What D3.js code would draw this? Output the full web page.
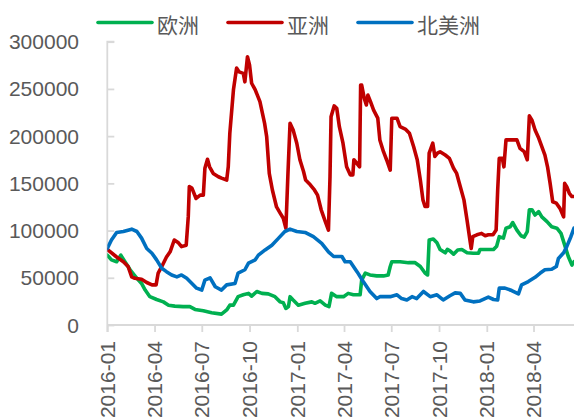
<!DOCTYPE html>
<html><head><meta charset="utf-8">
<script src="https://cdn.jsdelivr.net/npm/d3@7"></script>
<style>body{margin:0;background:#fff}svg{display:block}</style>
</head><body>
<svg id="c" width="574" height="419"></svg>
<script>
const seriesNames = ["欧洲", "亚洲", "北美洲"];
const seriesColors = ["#00B050", "#C00000", "#0070C0"];
const yTicks = [0, 50000, 100000, 150000, 200000, 250000, 300000];
const xTickLabels = ["2016-01","2016-04","2016-07","2016-10","2017-01","2017-04","2017-07","2017-10","2018-01","2018-04"];

const europe = [
["2016-01-01",74000],["2016-01-09",69000],["2016-01-19",67000],["2016-01-27",74000],["2016-02-04",67000],
["2016-02-14",58500],["2016-02-27",49500],["2016-03-07",44000],["2016-03-14",37000],["2016-03-23",30000],
["2016-04-05",27000],["2016-04-18",24500],["2016-04-28",21000],["2016-05-10",20000],["2016-05-26",19500],
["2016-06-08",19500],["2016-06-18",16500],["2016-07-04",15000],["2016-07-20",13000],["2016-08-08",11500],
["2016-08-18",16000],["2016-08-24",21000],["2016-08-31",21000],["2016-09-09",30000],["2016-09-19",32000],
["2016-09-29",33500],["2016-10-05",30500],["2016-10-15",35500],["2016-10-25",33500],["2016-11-06",33000],
["2016-11-19",30000],["2016-11-29",24500],["2016-12-05",23500],["2016-12-10",17500],["2016-12-15",19500],
["2016-12-18",30000],["2016-12-24",26500],["2017-01-03",21000],["2017-01-16",23000],["2017-01-29",24500],
["2017-02-04",23000],["2017-02-14",25500],["2017-02-24",21000],["2017-03-03",19500],["2017-03-08",33500],
["2017-03-18",30000],["2017-03-31",30000],["2017-04-09",33500],["2017-04-19",32000],["2017-05-02",32000],
["2017-05-05",47500],["2017-05-12",55000],["2017-05-21",53000],["2017-06-03",52000],["2017-06-16",52000],
["2017-06-25",53000],["2017-06-29",62000],["2017-07-02",67000],["2017-07-18",67000],["2017-08-03",66000],
["2017-08-16",66000],["2017-08-26",62000],["2017-09-04",55000],["2017-09-09",53000],["2017-09-12",90000],
["2017-09-20",91000],["2017-09-27",87000],["2017-10-03",80000],["2017-10-13",76500],["2017-10-17",80000],
["2017-10-22",78500],["2017-10-29",75000],["2017-11-06",79500],["2017-11-14",80000],["2017-11-24",76500],
["2017-12-06",76000],["2017-12-16",76000],["2017-12-19",80000],["2018-01-14",80000],["2018-01-20",83500],
["2018-01-25",93500],["2018-02-02",92000],["2018-02-07",102500],["2018-02-15",104000],["2018-02-20",108500],
["2018-02-28",100500],["2018-03-08",94500],["2018-03-14",93000],["2018-03-20",99000],["2018-03-24",122000],
["2018-03-29",122000],["2018-04-04",116500],["2018-04-11",120000],["2018-04-17",114500],["2018-04-27",109500],
["2018-05-06",104000],["2018-05-16",102500],["2018-05-24",97000],["2018-06-01",83000],["2018-06-07",72500],
["2018-06-14",63500],["2018-06-18",67000]
];

const asia = [
["2016-01-01",80000],["2016-01-19",72000],["2016-02-01",67000],["2016-02-10",62000],["2016-02-17",51000],
["2016-02-23",49500],["2016-03-07",48500],["2016-03-17",45000],["2016-03-27",42500],["2016-04-04",42500],
["2016-04-08",55000],["2016-04-15",62000],["2016-04-24",72000],["2016-05-01",77500],["2016-05-09",90000],
["2016-05-17",87000],["2016-05-23",83000],["2016-06-01",84500],["2016-06-05",115000],["2016-06-07",146500],
["2016-06-12",145000],["2016-06-20",134000],["2016-06-28",137500],["2016-07-04",137500],["2016-07-07",166000],
["2016-07-12",175500],["2016-07-16",167500],["2016-07-23",160500],["2016-08-02",157000],["2016-08-08",155500],
["2016-08-18",153500],["2016-08-21",167500],["2016-08-24",203000],["2016-08-31",249000],["2016-09-06",272000],
["2016-09-11",268000],["2016-09-19",266500],["2016-09-22",257500],["2016-09-27",284000],["2016-10-01",275500],
["2016-10-05",256000],["2016-10-12",249000],["2016-10-21",236500],["2016-10-30",213500],["2016-11-03",199500],
["2016-11-08",160500],["2016-11-14",143000],["2016-11-22",125000],["2016-11-29",118500],["2016-12-05",113000],
["2016-12-10",102500],["2016-12-14",160500],["2016-12-18",213500],["2016-12-24",206500],["2016-12-31",192500],
["2017-01-06",175000],["2017-01-13",162500],["2017-01-17",153500],["2017-01-26",148500],["2017-02-03",143000],
["2017-02-09",137500],["2017-02-16",122000],["2017-02-24",109500],["2017-03-02",100500],["2017-03-05",157000],
["2017-03-07",220500],["2017-03-13",232000],["2017-03-18",229500],["2017-03-23",210000],["2017-03-30",192500],
["2017-04-06",167500],["2017-04-13",159000],["2017-04-18",159000],["2017-04-20",175000],["2017-04-26",171000],
["2017-05-01",167500],["2017-05-03",254000],["2017-05-05",254000],["2017-05-10",240000],["2017-05-14",233000],
["2017-05-17",243500],["2017-05-22",236500],["2017-05-28",227500],["2017-06-05",219000],["2017-06-09",196000],
["2017-06-16",183500],["2017-06-22",175000],["2017-06-29",164000],["2017-07-02",219000],["2017-07-12",219000],
["2017-07-18",210000],["2017-07-28",207500],["2017-08-05",203000],["2017-08-13",189000],["2017-08-20",175000],
["2017-08-26",153500],["2017-08-31",132500],["2017-09-04",125500],["2017-09-09",125500],["2017-09-12",182000],
["2017-09-19",192500],["2017-09-23",178500],["2017-09-28",182000],["2017-10-03",183500],["2017-10-13",180000],
["2017-10-21",176500],["2017-10-29",166000],["2017-11-04",160500],["2017-11-11",146500],["2017-11-18",132500],
["2017-11-24",111000],["2017-11-29",92000],["2017-12-02",81000],["2017-12-05",93500],["2017-12-13",95500],
["2017-12-22",97000],["2017-12-29",94500],["2018-01-04",95500],["2018-01-13",95500],["2018-01-19",100500],
["2018-01-22",143000],["2018-01-25",176500],["2018-01-31",176500],["2018-02-03",167500],["2018-02-07",196000],
["2018-02-18",196000],["2018-02-28",196000],["2018-03-06",187000],["2018-03-14",183500],["2018-03-20",175000],
["2018-03-24",221500],["2018-03-29",217000],["2018-04-04",206500],["2018-04-11",198000],["2018-04-17",189000],
["2018-04-23",180000],["2018-04-28",167500],["2018-05-03",150000],["2018-05-08",130500],["2018-05-15",129000],
["2018-05-22",123500],["2018-05-29",114500],["2018-05-31",150000],["2018-06-04",146500],["2018-06-09",139500],
["2018-06-14",136000],["2018-06-18",136000]
];

const northAmerica = [
["2016-01-01",81000],["2016-01-09",90000],["2016-01-19",98000],["2016-02-01",99000],["2016-02-17",101500],
["2016-02-27",99000],["2016-03-07",92000],["2016-03-17",81000],["2016-03-27",76000],["2016-04-05",69000],
["2016-04-15",60000],["2016-04-24",56500],["2016-05-04",53000],["2016-05-14",51000],["2016-05-23",53000],
["2016-06-02",49500],["2016-06-12",44000],["2016-06-21",39000],["2016-07-01",37000],["2016-07-07",47500],
["2016-07-17",50000],["2016-07-27",40500],["2016-08-08",37000],["2016-08-18",42500],["2016-09-03",44000],
["2016-09-09",55000],["2016-09-22",58500],["2016-09-29",65500],["2016-10-12",69000],["2016-10-18",74000],
["2016-10-31",79500],["2016-11-13",84500],["2016-11-26",92000],["2016-12-08",99000],["2016-12-18",101500],
["2016-12-31",99000],["2017-01-16",98000],["2017-02-01",93500],["2017-02-17",86500],["2017-03-02",77500],
["2017-03-12",72500],["2017-03-28",72500],["2017-04-03",67000],["2017-04-13",67000],["2017-04-26",56500],
["2017-05-08",46000],["2017-05-21",35500],["2017-06-03",28000],["2017-06-09",30000],["2017-06-29",30000],
["2017-07-12",32000],["2017-07-21",28000],["2017-07-31",26500],["2017-08-10",30000],["2017-08-19",28000],
["2017-09-01",35500],["2017-09-14",30000],["2017-09-27",32000],["2017-10-09",26500],["2017-10-22",31000],
["2017-11-01",34000],["2017-11-11",33500],["2017-11-20",26500],["2017-12-06",24500],["2017-12-19",25500],
["2018-01-04",29500],["2018-01-14",27000],["2018-01-22",26500],["2018-01-25",39000],["2018-02-05",39000],
["2018-02-18",36500],["2018-03-03",33000],["2018-03-09",42500],["2018-03-22",46000],["2018-04-04",50500],
["2018-04-14",55000],["2018-04-23",58500],["2018-05-06",59000],["2018-05-15",62000],["2018-05-19",70500],
["2018-05-29",76500],["2018-06-04",83000],["2018-06-12",93500],["2018-06-18",102500]
];

const allSeries = [europe, asia, northAmerica];
const parse = d3.timeParse("%Y-%m-%d");
const tickParse = d3.timeParse("%Y-%m");

const svg = d3.select("#c");
const pLeft = 107.3, pRight = 574, pTop = 41.7, pBottom = 325;
const x = d3.scaleTime().domain([parse("2016-01-01"), parse("2018-06-18")]).range([pLeft, pRight]);
const y = d3.scaleLinear().domain([0, 300000]).range([pBottom, pTop]);
const txt = "#595959", axisCol = "#D9D9D9";

// y axis
const yAxis = svg.append("g").attr("transform", `translate(${pLeft},0)`)
  .call(d3.axisRight(y).tickValues(yTicks).tickSize(7).tickFormat(""));
yAxis.select(".domain").attr("stroke", axisCol).attr("stroke-width", 1.8).attr("d", `M7,${pTop}H0V${pBottom}`);
yAxis.selectAll(".tick line").attr("stroke", axisCol).attr("stroke-width", 1.8);
svg.append("g").selectAll("text").data(yTicks).join("text")
  .attr("x", 79).attr("y", d => y(d)).attr("dy", "0.36em").attr("text-anchor", "end")
  .attr("fill", txt).style("font", "21px 'Liberation Sans', Arial, sans-serif").text(d => d3.format("d")(d));

// x axis
const xTicks = xTickLabels.map(tickParse);
const xAxis = svg.append("g").attr("transform", `translate(0,${pBottom})`)
  .call(d3.axisBottom(x).tickValues(xTicks).tickSize(7).tickSizeOuter(0).tickFormat(""));
xAxis.select(".domain").attr("stroke", axisCol).attr("stroke-width", 1.8).attr("d", `M${pLeft},0V7M${pLeft},0H${pRight}`);
xAxis.selectAll(".tick line").attr("stroke", axisCol).attr("stroke-width", 1.8);
svg.append("g").selectAll("text").data(xTicks).join("text")
  .attr("transform", d => `translate(${x(d)},341) rotate(-90)`)
  .attr("dy", "0.36em").attr("text-anchor", "end")
  .attr("fill", txt).style("font", "21px 'Liberation Sans', Arial, sans-serif").text(d3.timeFormat("%Y-%m"));

// lines
const line = d3.line().x(d => x(parse(d[0]))).y(d => y(d[1]));
svg.append("defs").append("clipPath").attr("id", "clip").append("rect")
  .attr("x", pLeft).attr("y", 0).attr("width", pRight - pLeft + 2).attr("height", pBottom + 3);
const g = svg.append("g").attr("clip-path", "url(#clip)");
allSeries.forEach((s, i) => {
  g.append("path").datum(s).attr("d", line).attr("fill", "none")
    .attr("stroke", seriesColors[i]).attr("stroke-width", 3.6)
    .attr("stroke-linejoin", "round").attr("stroke-linecap", "round");
});

// legend
const legX = [98, 228, 358];
const leg = svg.append("g");
seriesNames.forEach((n, i) => {
  leg.append("line").attr("x1", legX[i]).attr("x2", legX[i] + 54).attr("y1", 22.5).attr("y2", 22.5)
    .attr("stroke", seriesColors[i]).attr("stroke-width", 3.6).attr("stroke-linecap", "round");
  leg.append("text").attr("x", legX[i] + 59).attr("y", 25).attr("dy", "0.36em")
    .attr("fill", txt).style("font", "21px 'Noto Sans CJK SC', sans-serif").text(n);
});
</script>
</body></html>
